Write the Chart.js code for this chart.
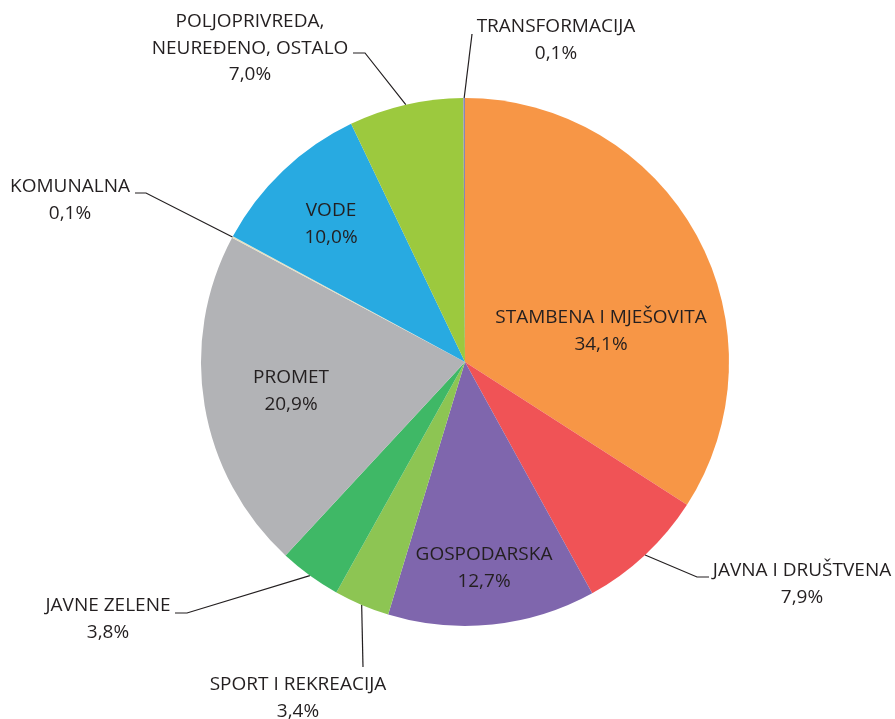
<!DOCTYPE html>
<html lang="hr">
<head>
    <meta charset="UTF-8">
    <title>Namjena površina</title>
    <script src="https://cdn.jsdelivr.net/npm/chart.js"></script>
    <style>
        html, body {
            margin: 0;
            padding: 0;
            background: #fff;
        }
        #wrap {
            width: 895px;
            height: 719px;
        }
    </style>
</head>
<body>
    <div id="wrap"><canvas id="pie"></canvas></div>

    <script>
        // Kategorije i udjeli (%), redom u smjeru kazaljke od vrha
        const categories = [
            'STAMBENA I MJEŠOVITA',
            'JAVNA I DRUŠTVENA',
            'GOSPODARSKA',
            'SPORT I REKREACIJA',
            'JAVNE ZELENE',
            'PROMET',
            'KOMUNALNA',
            'VODE',
            'POLJOPRIVREDA, NEUREĐENO, OSTALO',
            'TRANSFORMACIJA'
        ];
        const shares = [34.1, 7.9, 12.7, 3.4, 3.8, 20.9, 0.1, 10.0, 7.0, 0.1];
        const colors = ['#F79646', '#F05356', '#7F66AD', '#8DC553', '#3FB866',
                        '#B2B3B6', '#E6E1C3', '#28AAE1', '#9CC93E', '#8A86B5'];

        // Tekst oznaka (redci) za svaki isječak
        const labelLines = [
            ['STAMBENA I MJEŠOVITA'],
            ['JAVNA I DRUŠTVENA'],
            ['GOSPODARSKA'],
            ['SPORT I REKREACIJA'],
            ['JAVNE ZELENE'],
            ['PROMET'],
            ['KOMUNALNA'],
            ['VODE'],
            ['POLJOPRIVREDA,', 'NEUREĐENO, OSTALO'],
            ['TRANSFORMACIJA']
        ];

        // Smještaj oznaka: središte teksta i (za vanjske) točke vodilice
        const labelLayout = [
            { x: 601, y: 318 },
            { x: 802, y: 571, bend: [697, 577], end: [709, 577] },
            { x: 484, y: 555 },
            { x: 298, y: 685, bend: [363, 667], end: [363, 667] },
            { x: 108, y: 606, bend: [187, 613], end: [175, 613] },
            { x: 291, y: 378 },
            { x: 70, y: 187, bend: [146, 193], end: [135, 193] },
            { x: 331, y: 211 },
            { x: 250, y: 22, bend: [365, 53], end: [353, 53] },
            { x: 556, y: 27, bend: [472, 34], end: [472, 34] }
        ];

        const fmt = v => v.toFixed(1).replace('.', ',') + '%';

        const pieLabels = {
            id: 'pieLabels',
            afterDraw(chart) {
                const ctx = chart.ctx;
                const arcs = chart.getDatasetMeta(0).data;
                ctx.save();
                ctx.font = '19px "Open Sans", sans-serif';
                ctx.fillStyle = '#231F20';
                ctx.textAlign = 'center';
                ctx.textBaseline = 'middle';
                arcs.forEach((arc, i) => {
                    const lay = labelLayout[i];
                    if (lay.bend) {
                        const mid = (arc.startAngle + arc.endAngle) / 2;
                        const sx = arc.x + Math.cos(mid) * arc.outerRadius;
                        const sy = arc.y + Math.sin(mid) * arc.outerRadius;
                        ctx.beginPath();
                        ctx.strokeStyle = '#231F20';
                        ctx.lineWidth = 1.2;
                        ctx.moveTo(sx, sy);
                        ctx.lineTo(lay.bend[0], lay.bend[1]);
                        ctx.lineTo(lay.end[0], lay.end[1]);
                        ctx.stroke();
                    }
                    const lines = labelLines[i].concat([fmt(shares[i])]);
                    lines.forEach((t, k) => {
                        ctx.fillText(t, lay.x, lay.y + k * 26.5);
                    });
                });
                ctx.restore();
            }
        };

        new Chart(document.getElementById('pie'), {
            type: 'pie',
            data: {
                labels: categories,
                datasets: [{
                    data: shares,
                    backgroundColor: colors,
                    borderWidth: 0
                }]
            },
            options: {
                responsive: true,
                maintainAspectRatio: false,
                animation: false,
                layout: {
                    padding: { top: 98, bottom: 93, left: 201, right: 166 }
                },
                plugins: {
                    legend: { display: false },
                    tooltip: { enabled: false }
                }
            },
            plugins: [pieLabels]
        });
    </script>
</body>
</html>
